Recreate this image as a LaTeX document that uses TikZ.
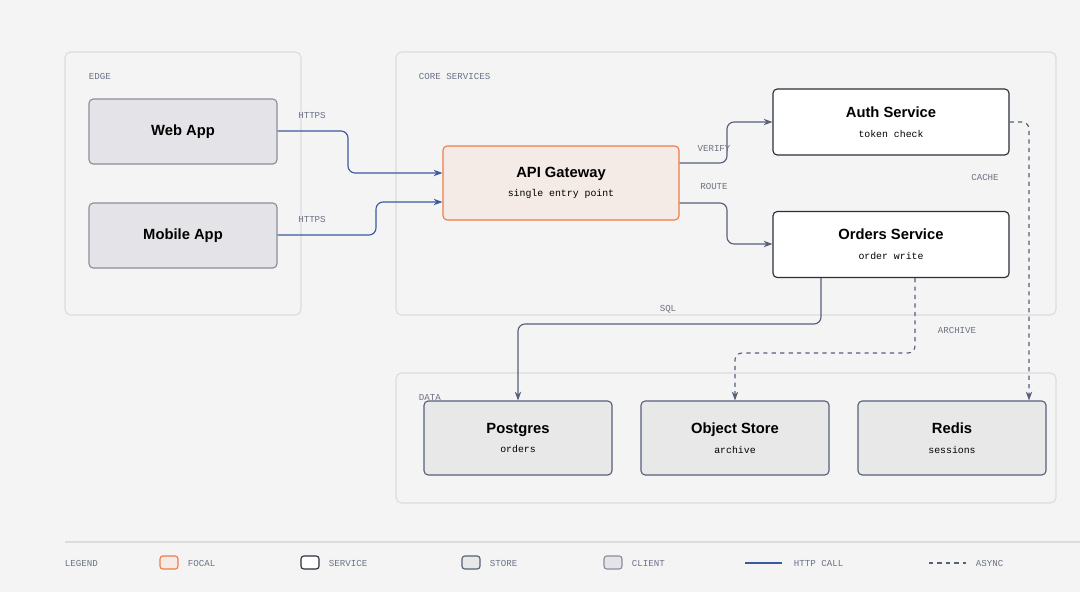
\documentclass[tikz,border=0pt]{standalone}
\usepackage{fontspec}
\setmainfont{Liberation Sans}
\setmonofont{Liberation Mono}
\usetikzlibrary{positioning, arrows.meta}

\definecolor{bgc}{HTML}{F4F4F4}
\definecolor{ink}{HTML}{2B2F3A}
\definecolor{muted}{HTML}{6B7285}
\definecolor{wire}{HTML}{56607A}
\definecolor{httpc}{HTML}{3A5AA0}
\definecolor{focalc}{HTML}{EE7B4A}
\definecolor{focalf}{HTML}{F4EAE6}
\definecolor{storef}{HTML}{E8E8E8}
\definecolor{clientf}{HTML}{E4E4E8}
\definecolor{groupc}{HTML}{DCDCDC}

\newcommand{\ttl}[2]{{\bfseries\fontsize{10.5}{12}\selectfont #1}\\[2pt]{\ttfamily\fontsize{7}{8}\selectfont #2}}

\begin{document}
\begin{tikzpicture}[x=0.025cm, y=-0.025cm,
    group/.style={draw=groupc, line width=0.8pt, rounded corners=4pt},
    grouplabel/.style={font=\ttfamily\fontsize{6.5}{7}\selectfont, text=muted, anchor=west},
    service/.style={rectangle, draw=ink, line width=0.8pt, fill=white, rounded corners=3pt,
                    minimum width=236*0.025cm, minimum height=66*0.025cm, align=center},
    focal/.style={service, draw=focalc, fill=focalf, minimum height=74*0.025cm},
    store/.style={service, draw=wire, fill=storef, minimum width=188*0.025cm, minimum height=74*0.025cm},
    client/.style={service, draw=muted!80, fill=clientf, minimum width=188*0.025cm, minimum height=65*0.025cm},
    elabel/.style={font=\ttfamily\fontsize{6.5}{7}\selectfont, text=muted},
    http/.style={-{Stealth[length=2.2mm, width=1.6mm]}, draw=httpc, line width=0.8pt, rounded corners=5pt},
    call/.style={-{Stealth[length=2.2mm, width=1.6mm]}, draw=wire, line width=0.8pt, rounded corners=5pt},
    async/.style={call, dashed}
]
    \fill[bgc] (0,0) rectangle (1080,592);
    \useasboundingbox (0,0) rectangle (1080,592);

    % groups
    \draw[group] (65,52) rectangle (301,315);
    \node[grouplabel] (edgelbl) at (84,76) {EDGE};
    \draw[group] (396,52) rectangle (1056,315);
    \node[grouplabel] (corelbl) at (414,76) {CORE SERVICES};
    \draw[group] (396,373) rectangle (1056,503);
    \node[grouplabel] (datalbl) at (414,397) {DATA};

    % nodes
    \node[client] (web) at (183,131.5) {\bfseries\fontsize{10.5}{12}\selectfont Web App};
    \node[client] (mobile) at (183,235.5) {\bfseries\fontsize{10.5}{12}\selectfont Mobile App};
    \node[focal] (gateway) at (561,183) {\ttl{API Gateway}{single entry point}};
    \node[service] (auth) at (891,122) {\ttl{Auth Service}{token check}};
    \node[service] (orders) at (891,244.5) {\ttl{Orders Service}{order write}};
    \node[store] (postgres) at (518,438) {\ttl{Postgres}{orders}};
    \node[store] (objstore) at (735,438) {\ttl{Object Store}{archive}};
    \node[store] (redis) at (952,438) {\ttl{Redis}{sessions}};

    % connectors
    \draw[http] (web.east |- 0,131) -| (348,150) |- (gateway.west |- 0,173);
    \node[elabel] (l1) at (312,115) {HTTPS};
    \draw[http] (mobile.east |- 0,235) -| (376,220) |- (gateway.west |- 0,202);
    \node[elabel] (l2) at (312,219) {HTTPS};
    \draw[call] (gateway.east |- 0,163) -| (727,140) |- (auth.west);
    \node[elabel] (l3) at (714,148) {VERIFY};
    \draw[call] (gateway.east |- 0,203) -| (727,230) |- (orders.west |- 0,244);
    \node[elabel] (l4) at (714,186) {ROUTE};
    \draw[call] (orders.south -| 821,0) |- (600,324) -| (postgres.north);
    \node[elabel] (l5) at (668,309) {SQL};
    \draw[async] (orders.south -| 915,0) |- (800,353) -| (objstore.north);
    \node[elabel] (l6) at (957,330) {ARCHIVE};
    \draw[async] (auth.east) -| (redis.north -| 1029,0);
    \node[elabel] (l7) at (985,177) {CACHE};

    % legend
    \draw[groupc, line width=0.8pt] (65,542) -- (1080,542);
    \node[elabel, anchor=west] (leg) at (60,563) {LEGEND};
    \draw[focalc, fill=focalf, line width=0.8pt, rounded corners=2pt] (160,556) rectangle (178,569);
    \node[elabel, anchor=west] (lg1) at (183,563) {FOCAL};
    \draw[ink, fill=white, line width=0.8pt, rounded corners=2pt] (301,556) rectangle (319,569);
    \node[elabel, anchor=west] (lg2) at (324,563) {SERVICE};
    \draw[wire, fill=storef, line width=0.8pt, rounded corners=2pt] (462,556) rectangle (480,569);
    \node[elabel, anchor=west] (lg3) at (485,563) {STORE};
    \draw[muted!80, fill=clientf, line width=0.8pt, rounded corners=2pt] (604,556) rectangle (622,569);
    \node[elabel, anchor=west] (lg4) at (627,563) {CLIENT};
    \draw[httpc, line width=0.8pt] (745,563) -- (782,563);
    \node[elabel, anchor=west] (lg5) at (789,563) {HTTP CALL};
    \draw[wire, line width=0.8pt, dashed] (929,563) -- (966,563);
    \node[elabel, anchor=west] (lg6) at (971,563) {ASYNC};
\end{tikzpicture}
\end{document}
